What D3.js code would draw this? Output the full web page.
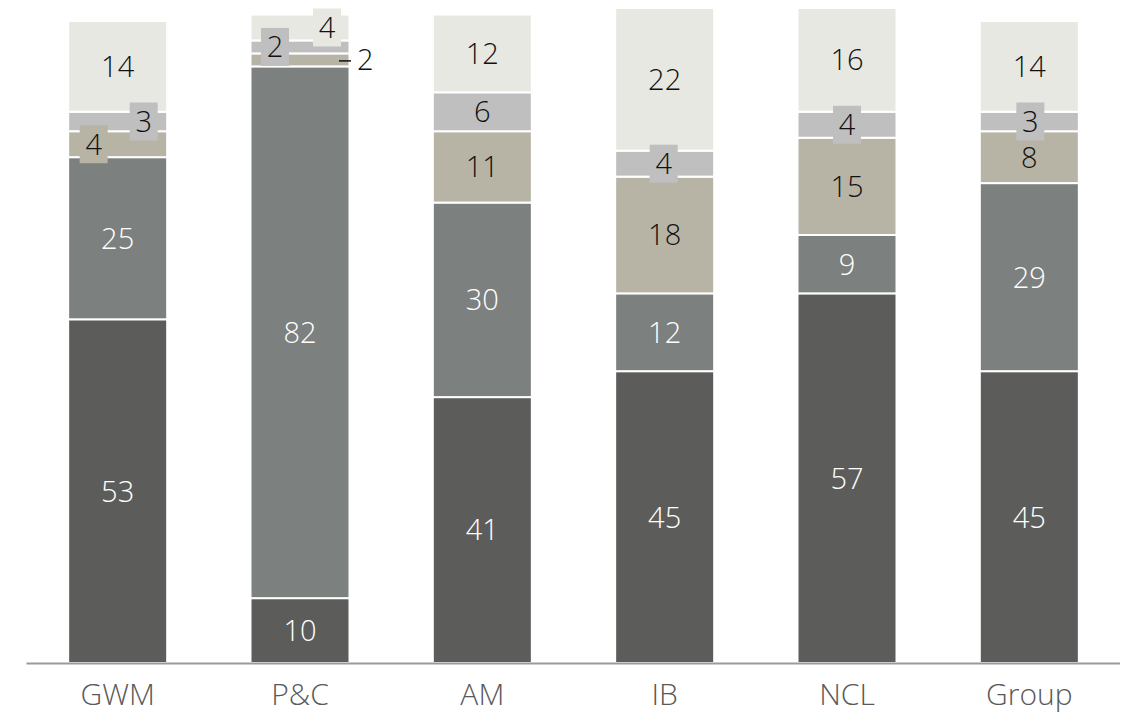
<!DOCTYPE html>
<html>
<head>
<meta charset="utf-8">
<script src="https://cdn.jsdelivr.net/npm/d3@7"></script>
<style>
  html, body { margin: 0; padding: 0; background: #fff; }
  svg { display: block; font-family: "Open Sans", "Noto Sans", sans-serif; font-weight: 300; }
</style>
</head>
<body>
<svg id="chart" width="1130" height="714"></svg>
<script>
// ---- data ----
const categories = ["GWM", "P&C", "AM", "IB", "NCL", "Group"];
const seriesNames = ["Segment 1", "Segment 2", "Segment 3", "Segment 4", "Segment 5"];
const segment1 = [53, 10, 41, 45, 57, 45];
const segment2 = [25, 82, 30, 12, 9, 29];
const segment3 = [4, 2, 11, 18, 15, 8];
const segment4 = [3, 2, 6, 4, 4, 3];
const segment5 = [14, 4, 12, 22, 16, 14];
const yDomain = [0, 100];

// ---- styling ----
const colors = ["#5c5d5b", "#7c807e", "#b8b4a5", "#bfbfbf", "#e8e8e3"];
const textColors = ["#ffffff", "#ffffff", "#111111", "#111111", "#111111"];
const labelSize = 29;
// label placement for small segments: [category, seriesIndex] -> mode
const labelPlacement = {
  "GWM|2": {box: true, dx: -24},
  "GWM|3": {box: true, dx: 26},
  "P&C|2": {outside: true},
  "P&C|3": {box: true, dx: -25},
  "P&C|4": {box: true, dx: 27},
  "IB|3": {box: true, dx: -1},
  "NCL|3": {box: true, dx: 0},
  "Group|3": {box: true, dx: 1}
};

const values = [segment1, segment2, segment3, segment4, segment5];
const svg = d3.select("#chart");

const x = d3.scaleBand().domain(categories).range([26.5, 1120.5]).paddingInner(0.457).paddingOuter(0.2285);
const y = d3.scaleLinear().domain(yDomain).range([663, 14.5]);

// build stacked data
const rows = categories.map((c, i) => {
  const r = {category: c};
  seriesNames.forEach((s, j) => r[s] = values[j][i]);
  return r;
});
const stacked = d3.stack().keys(seriesNames)(rows);

const g = svg.append("g");

stacked.forEach((layer, j) => {
  g.selectAll(null).data(layer).enter().append("rect")
    .attr("x", d => x(d.data.category))
    .attr("width", x.bandwidth())
    .attr("y", d => y(d[1]))
    .attr("height", d => y(d[0]) - y(d[1]))
    .attr("fill", colors[j])
    .attr("stroke", "#fff")
    .attr("stroke-width", 2);
});

// axis line
svg.append("line")
  .attr("x1", 26.5).attr("x2", 1120).attr("y1", 663.5).attr("y2", 663.5)
  .attr("stroke", "#9a9a9a").attr("stroke-width", 2);

// category labels
svg.selectAll(".cat").data(categories).enter().append("text")
  .attr("class", "cat")
  .attr("x", d => x(d) + x.bandwidth() / 2)
  .attr("y", 705)
  .attr("text-anchor", "middle")
  .attr("font-size", 30)
  .attr("fill", "#595959")
  .text(d => d);

// segment labels
const lab = svg.append("g");
stacked.forEach((layer, j) => {
  layer.forEach(d => {
    const c = d.data.category;
    const v = d.data[seriesNames[j]];
    const cx = x(c) + x.bandwidth() / 2;
    const cy = (y(d[0]) + y(d[1])) / 2;
    const p = labelPlacement[c + "|" + j];
    if (p && p.outside) {
      lab.append("line")
        .attr("x1", cx + 39).attr("x2", cx + 51)
        .attr("y1", cy + 1).attr("y2", cy + 1)
        .attr("stroke", "#111").attr("stroke-width", 1.5);
      lab.append("text")
        .attr("x", cx + 57).attr("y", cy).attr("dy", "0.36em")
        .attr("font-size", labelSize).attr("fill", "#111")
        .text(v);
      return;
    }
    let tx = cx;
    if (p && p.box) {
      tx = cx + p.dx;
      lab.append("rect")
        .attr("x", tx - 14).attr("y", cy - 19)
        .attr("width", 28).attr("height", 38)
        .attr("fill", colors[j]);
    }
    lab.append("text")
      .attr("x", tx).attr("y", cy).attr("dy", "0.36em")
      .attr("text-anchor", "middle")
      .attr("font-size", labelSize)
      .attr("fill", textColors[j])
      .text(v);
  });
});
</script>
</body>
</html>
